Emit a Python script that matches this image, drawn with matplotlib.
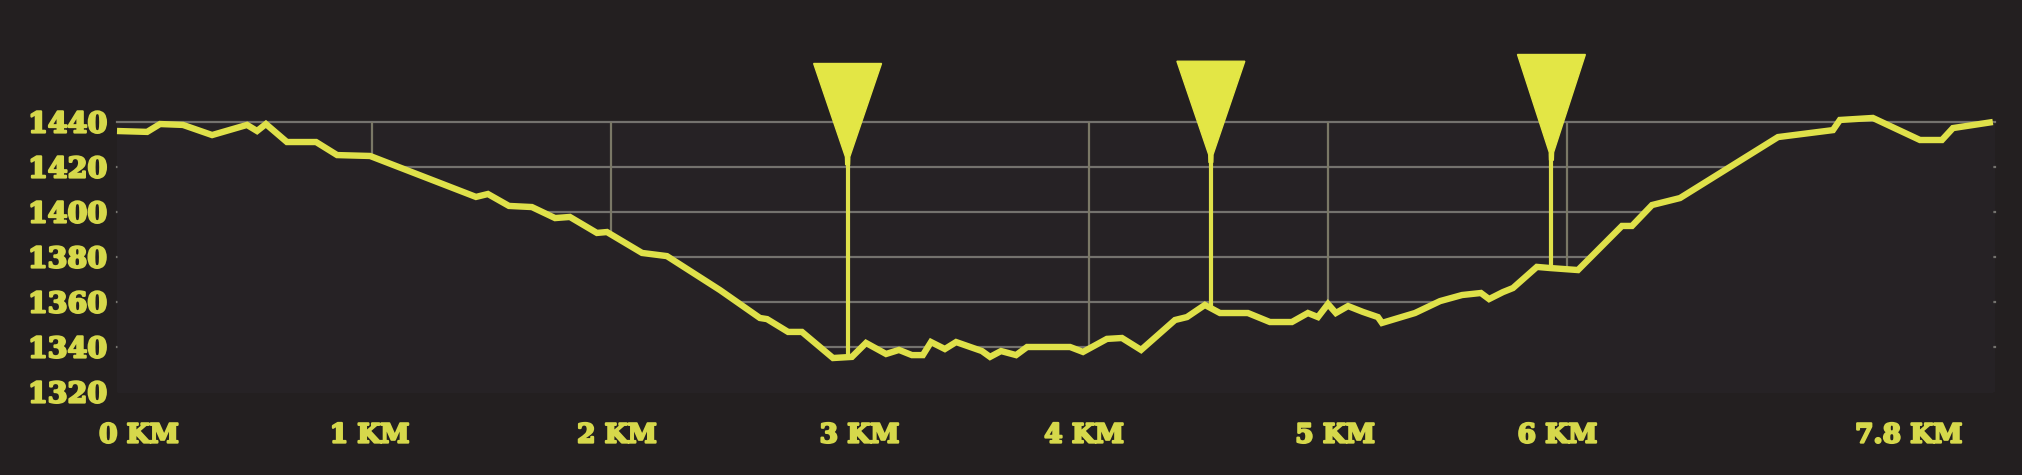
import matplotlib.pyplot as plt
import matplotlib.patheffects as pe
import numpy as np

# elevation profile (km, metres)
dist_km = [-0.067, 0.059, 0.113, 0.209, 0.331, 0.477, 0.519, 0.556, 0.644, 0.766,
           0.854, 0.992, 1.435, 1.485, 1.573, 1.669, 1.766, 1.828, 1.941, 1.983,
           2.130, 2.234, 2.456, 2.623, 2.653, 2.741, 2.799, 2.929, 3.008, 3.067,
           3.151, 3.205, 3.259, 3.305, 3.339, 3.397, 3.444, 3.552, 3.586, 3.632,
           3.695, 3.741, 3.921, 3.975, 4.075, 4.138, 4.218, 4.360, 4.410, 4.485,
           4.548, 4.665, 4.757, 4.849, 4.916, 4.958, 5.000, 5.033, 5.084, 5.146,
           5.209, 5.226, 5.364, 5.469, 5.561, 5.640, 5.674, 5.732, 5.774, 5.874,
           5.929, 6.046, 6.230, 6.272, 6.356, 6.473, 6.883, 7.113, 7.142, 7.280,
           7.477, 7.569, 7.615, 7.782]
elev_m = [1436.0, 1435.6, 1439.1, 1438.7, 1434.2, 1438.7, 1436.0, 1439.1, 1431.1, 1431.1,
          1425.3, 1424.9, 1406.7, 1408.0, 1402.7, 1402.2, 1397.3, 1397.8, 1390.7, 1391.1,
          1381.8, 1380.4, 1365.3, 1352.9, 1352.4, 1346.7, 1346.7, 1335.1, 1335.6, 1341.8,
          1336.9, 1338.7, 1336.4, 1336.4, 1342.2, 1339.1, 1342.2, 1338.2, 1335.6, 1338.2,
          1336.4, 1340.0, 1340.0, 1337.8, 1343.6, 1344.0, 1338.7, 1352.0, 1353.3, 1358.7,
          1355.1, 1355.1, 1351.1, 1351.1, 1355.1, 1353.3, 1359.1, 1355.1, 1358.2, 1355.6,
          1353.3, 1350.7, 1355.1, 1360.4, 1363.1, 1364.0, 1361.3, 1364.4, 1366.2, 1375.6,
          1375.1, 1374.2, 1393.8, 1393.8, 1403.1, 1406.2, 1433.3, 1436.4, 1440.9, 1441.8,
          1432.0, 1432.0, 1437.3, 1440.0]

# waypoint markers
marker_km = [2.99, 4.51, 5.935]
marker_top = [1466.0, 1467.0, 1470.0]
marker_apex = [1423.0, 1424.0, 1425.0]

elev_ticks = [1320, 1340, 1360, 1380, 1400, 1420, 1440]
km_grid = [1, 2, 4, 5, 6]
km_labels = ["0 KM", "1 KM", "2 KM", "3 KM", "4 KM", "5 KM", "6 KM", "7.8 KM"]
km_label_pos = [0.025, 0.99, 2.025, 3.04, 3.98, 5.03, 5.96, 7.43]

BG = "#231f20"
PLOT_BG = "#262225"
YEL = "#dfe14a"
TXT = "#d6d84b"
GRID = "#74726e"
VGRID = "#7a7866"

fig = plt.figure(figsize=(20.22, 4.75), dpi=100, facecolor=BG)
ax = fig.add_axes([117 / 2022, 83 / 475, 1878 / 2022, 270 / 475])
ax.set_facecolor(PLOT_BG)
ax.set_xlim(-0.067, 7.791)
ax.set_ylim(1320, 1440)

#grid, later covered under the profile (no line at the floor)
for e in elev_ticks[1:]:
    ax.plot([-0.067, 7.791], [e, e], color=GRID, lw=1.6, zorder=1, clip_on=False)
for k in km_grid:
    ax.plot([k, k], [1320, 1440], color=VGRID, lw=1.6, zorder=1)

ax.fill_between(dist_km, elev_m, 1318, color=PLOT_BG, zorder=2, lw=0)
ax.plot(dist_km, elev_m, color=YEL, lw=4.6, zorder=4, clip_on=False,
        solid_joinstyle="miter", solid_capstyle="butt")

#markers: stem + triangle
w = 0.142
for k, top, apex in zip(marker_km, marker_top, marker_apex):
    base = np.interp(k, dist_km, elev_m)
    ax.plot([k, k], [base, apex], color=YEL, lw=3.0, zorder=5, clip_on=False)
    tri = plt.Polygon([[k - w, top], [k + w, top], [k + 0.009, apex + 1.5],
                       [k + 0.008, apex - 2], [k - 0.008, apex - 2], [k - 0.009, apex + 1.5]],
                      closed=True, color="#e3e645", zorder=6, clip_on=False)
    ax.add_patch(tri)

ax.set_yticks(elev_ticks)
ax.set_yticklabels([str(e) for e in elev_ticks])
ax.set_xticks(km_label_pos)
ax.set_xticklabels(km_labels)
ax.tick_params(axis="y", length=0, pad=7, labelcolor=TXT, labelsize=20.5)
ax.tick_params(axis="x", length=0, pad=22, labelcolor=TXT, labelsize=19)
heavy = [pe.withStroke(linewidth=1.6, foreground=TXT)]
for lab in ax.get_xticklabels() + ax.get_yticklabels():
    lab.set_family("DejaVu Serif")
    lab.set_weight("bold")
    lab.set_path_effects(heavy)
for s in ax.spines.values():
    s.set_visible(False)

fig.savefig("out.png", dpi=100, facecolor=BG)
